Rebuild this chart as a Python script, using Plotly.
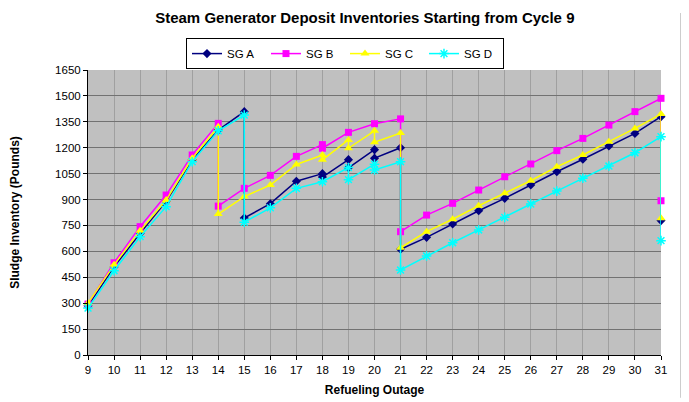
import plotly.graph_objects as go

x_a = [9, 10, 11, 12, 13, 14, 15, 15, 16, 17, 18, 18, 19, 19, 20, 20, 21, 21,
       22, 23, 24, 25, 26, 27, 28, 29, 30, 31, 31]
y_a = [285, 510, 704, 890, 1130, 1302, 1409, 793, 876, 1006, 1050, 1030, 1131, 1084,
       1189, 1139, 1200, 612, 681, 758, 835, 907, 984, 1061, 1133, 1210, 1283, 1380, 778]

x_b = [9, 10, 11, 12, 13, 14, 14, 15, 16, 17, 18, 18, 19, 20, 21, 21,
       22, 23, 24, 25, 26, 27, 28, 29, 30, 31, 31]
y_b = [295, 534, 743, 926, 1158, 1341, 862, 965, 1040, 1150, 1218, 1197, 1289, 1339,
       1367, 714, 810, 878, 955, 1032, 1106, 1183, 1254, 1331, 1409, 1486, 893]

x_c = [9, 10, 11, 12, 13, 14, 14, 15, 16, 17, 18, 18, 19, 19, 20, 20, 21, 21,
       22, 23, 24, 25, 26, 27, 28, 29, 30, 31, 31]
y_c = [300, 522, 720, 897, 1139, 1322, 816, 917, 984, 1103, 1158, 1130, 1245, 1197,
       1298, 1232, 1285, 621, 714, 786, 864, 936, 1009, 1090, 1158, 1235, 1312, 1395, 791]

x_d = [9, 10, 11, 12, 13, 14, 15, 15, 16, 17, 18, 19, 19, 20, 20, 21, 21,
       22, 23, 24, 25, 26, 27, 28, 29, 30, 31, 31]
y_d = [272, 488, 685, 859, 1119, 1298, 1389, 769, 852, 965, 1003, 1085, 1015, 1105,
       1071, 1119, 492, 573, 650, 724, 797, 874, 949, 1023, 1094, 1171, 1264, 662]

series = [
    ("SG A", x_a, y_a, "#000080", "diamond", 7),
    ("SG B", x_b, y_b, "#FF00FF", "square", 7),
    ("SG C", x_c, y_c, "#FFFF00", "triangle-up", 8),
    ("SG D", x_d, y_d, "#00FFFF", "asterisk-open", 8),
]

tick_x = list(range(9, 32))
tick_y = list(range(0, 1651, 150))

fig = go.Figure()
for name, xs, ys, col, sym, sz in series:
    fig.add_trace(go.Scatter(
        x=xs, y=ys, name=name, mode="lines+markers",
        line=dict(color=col, width=1.5),
        marker=dict(symbol=sym, size=sz, color=col,
                    line=dict(color=col, width=1.5 if sym == "asterisk-open" else 0)),
        cliponaxis=False,
    ))

font = "Liberation Sans, Arial, sans-serif"
fig.update_layout(
    width=681, height=394,
    margin=dict(l=80, r=28, t=62, b=47, autoexpand=False),
    paper_bgcolor="white",
    plot_bgcolor="#C0C0C0",
    font=dict(family=font, size=11.5, color="black"),
    title=dict(text="<b>Steam Generator Deposit Inventories Starting from Cycle 9</b>",
               x=0.524, xanchor="center", y=0.975, yanchor="middle",
               font=dict(size=15, family=font)),
    showlegend=True,
    legend=dict(orientation="h", x=0.4485, xanchor="center", y=1.112, yanchor="top",
                bgcolor="white", bordercolor="black", borderwidth=1,
                font=dict(size=11.5), entrywidth=34, entrywidthmode="pixels",
                itemwidth=30, tracegroupgap=0),
    xaxis=dict(range=[9, 31], tickvals=tick_x, ticktext=[str(v) for v in tick_x],
               showgrid=True, gridcolor="#A0A0A0", gridwidth=1,
               ticks="outside", ticklen=4, tickcolor="black",
               showline=True, linecolor="black", linewidth=1,
               zeroline=False, automargin=False,
               title=dict(text="<b>Refueling Outage</b>", font=dict(size=12), standoff=10)),
    yaxis=dict(range=[0, 1650], tickvals=tick_y, ticktext=[str(v) for v in tick_y],
               showgrid=True, gridcolor="#727272", gridwidth=1,
               ticks="outside", ticklen=4, tickcolor="black",
               showline=True, linecolor="black", linewidth=1,
               zeroline=False, automargin=False,
               title=dict(text="<b>Sludge Inventory (Pounds)</b>", font=dict(size=12), standoff=34)),
)

fig.add_shape(type="line", xref="paper", yref="paper", x0=1.035, x1=1.035, y0=-0.15, y1=1.2,
              layer="above", line=dict(color="#909090", width=1))

fig.write_html("out.html")
